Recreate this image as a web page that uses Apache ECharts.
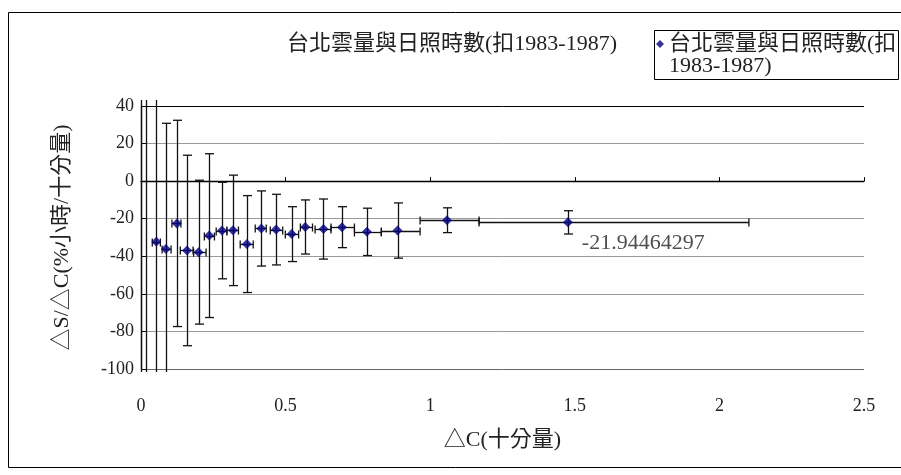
<!DOCTYPE html>
<html>
<head>
<meta charset="utf-8">
<script src="https://cdn.jsdelivr.net/npm/echarts@6/dist/echarts.min.js"></script>
<style>
  html, body { margin: 0; padding: 0; background: #fff; }
  #chart { width: 901px; height: 475px; }
</style>
</head>
<body>
<div id="chart"></div>
<script>
// Taipei cloud amount vs. sunshine hours (1983-1987 removed)
const legendLines = ['台北雲量與日照時數(扣', '1983-1987)'];
const seriesName = legendLines.join('');
const xAxisName = '△C(十分量)';
const yAxisName = '△S/△C(%小時/十分量)';

// bin centres (△C), ratio values and their error ranges
const deltaC = [0.000, 0.016, 0.053, 0.086, 0.124, 0.159, 0.199, 0.236, 0.280, 0.318, 0.366,
                0.416, 0.467, 0.521, 0.568, 0.631, 0.695, 0.781, 0.887, 1.058, 1.476];
const ratio  = [-160, 55, -32.2, -36.1, -22.5, -36.9, -37.8, -29.0, -26.3, -26.2, -33.5,
                -25.2, -25.8, -28.2, -24.4, -25.5, -24.5, -27.0, -26.3, -20.8, -21.94464297];
const ratioErr = [330, 210, 80, 66.9, 54.9, 50.7, 38.3, 43.6, 25.7, 29.4, 25.8,
                  20.0, 18.8, 14.6, 14.4, 16.0, 10.9, 12.6, 14.7, 6.6, 6.2];
const binLow  = [0.000, 0.016, 0.039, 0.073, 0.107, 0.136, 0.182, 0.219, 0.260, 0.297, 0.343,
                 0.395, 0.447, 0.499, 0.551, 0.602, 0.657, 0.738, 0.831, 0.965, 1.169];
const binHigh = [0.000, 0.016, 0.067, 0.104, 0.138, 0.180, 0.225, 0.254, 0.297, 0.337, 0.388,
                 0.433, 0.490, 0.545, 0.593, 0.657, 0.738, 0.831, 0.965, 1.169, 2.102];
const labelledIndex = deltaC.length - 1;

// axis ranges and tick labels
const xTicks = ['0', '0.5', '1', '1.5', '2', '2.5'];
const yTicks = ['-100', '-80', '-60', '-40', '-20', '0', '20', '40'];
const xMin = 0, xMax = 2.5, xStep = 0.5;
const yMin = -100, yMax = 40, yStep = 20;

const FONT = "'Liberation Serif', 'Noto Sans CJK TC', serif";
const TEXT = '#222';

const points = deltaC.map((x, i) => {
  const item = { value: [x, ratio[i]] };
  if (i === labelledIndex) {
    item.label = {
      show: true,
      formatter: p => String(p.value[1]),
      position: [19, 26],
      align: 'left',
      verticalAlign: 'middle',
      color: TEXT,
      fontSize: 22,
      fontFamily: FONT
    };
  }
  return item;
});
const errorData = deltaC.map((x, i) => [x, ratio[i], ratioErr[i], binLow[i], binHigh[i]]);

// vertical (ratio) and horizontal (bin range) error bars, kept near the plot area
function renderErrorBars(params, api) {
  const x = api.value(0), y = api.value(1), e = api.value(2);
  const lo = api.value(3), hi = api.value(4);
  const cs = params.coordSys;
  const top = cs.y, bottom = cs.y + cs.height;
  const c = api.coord([x, y]);
  const pUp = api.coord([x, y + e]);
  const pDn = api.coord([x, y - e]);
  const style = { stroke: '#111', lineWidth: 1.3 };
  const cap = 4.5;
  const children = [];
  const vx = Math.round(c[0]) + 0.5;
  const yA = Math.max(pUp[1], top - 6);
  const yB = Math.min(pDn[1], bottom + 3);
  children.push({ type: 'line', shape: { x1: vx, y1: yA, x2: vx, y2: yB }, style });
  if (pUp[1] >= top) {
    children.push({ type: 'line', shape: { x1: vx - cap, y1: pUp[1], x2: vx + cap, y2: pUp[1] }, style });
  }
  if (pDn[1] <= bottom) {
    children.push({ type: 'line', shape: { x1: vx - cap, y1: pDn[1], x2: vx + cap, y2: pDn[1] }, style });
  }
  if (hi > lo && c[1] >= top && c[1] <= bottom) {
    const a = api.coord([lo, y]), b = api.coord([hi, y]);
    const hy = Math.round(c[1]) + 0.5;
    children.push({ type: 'line', shape: { x1: a[0], y1: hy, x2: b[0], y2: hy }, style });
    children.push({ type: 'line', shape: { x1: a[0], y1: hy - 4, x2: a[0], y2: hy + 4 }, style });
    children.push({ type: 'line', shape: { x1: b[0], y1: hy - 4, x2: b[0], y2: hy + 4 }, style });
  }
  return { type: 'group', children };
}

const chart = echarts.init(document.getElementById('chart'), null, { renderer: 'canvas' });
chart.setOption({
  animation: false,
  backgroundColor: '#fff',
  textStyle: { fontFamily: FONT },
  title: {
    text: seriesName,
    left: 287,
    top: 33,
    padding: 0,
    textStyle: { fontSize: 22, fontWeight: 'normal', color: TEXT, fontFamily: FONT, lineHeight: 22 }
  },
  legend: {
    data: [seriesName],
    left: 656,
    top: 11,
    padding: 0,
    icon: 'diamond',
    itemWidth: 8,
    itemHeight: 8,
    selectedMode: false,
    // leading blank line puts the first text line level with the icon
    formatter: () => '\n' + legendLines.join('\n'),
    textStyle: { fontSize: 22, lineHeight: 22, color: TEXT, fontFamily: FONT }
  },
  graphic: [
    { type: 'rect', silent: true, shape: { x: 8.5, y: 12.5, width: 900, height: 455 },
      style: { fill: 'none', stroke: '#000', lineWidth: 1 } },
    { type: 'rect', silent: true, shape: { x: 654.5, y: 30.5, width: 244, height: 49 },
      style: { fill: 'none', stroke: '#000', lineWidth: 1 } }
  ],
  grid: { left: 141, right: 37, top: 106, bottom: 106, containLabel: false },
  xAxis: [
    {
      type: 'value', min: xMin, max: xMax, interval: xStep, position: 'bottom',
      name: xAxisName, nameLocation: 'middle', nameGap: 60,
      nameTextStyle: { fontSize: 22, color: TEXT, fontFamily: FONT },
      axisLine: { show: false, onZero: false },
      axisTick: { show: false },
      splitLine: { show: false },
      axisLabel: {
        margin: 28, fontSize: 18, color: TEXT, fontFamily: FONT,
        formatter: (v) => xTicks[Math.round((v - xMin) / xStep)]
      }
    },
    {
      type: 'value', min: xMin, max: xMax, interval: xStep, position: 'bottom',
      axisLine: { show: true, onZero: true, lineStyle: { color: '#000', width: 1.3 } },
      axisTick: { show: true, inside: true, length: 4, lineStyle: { color: '#000' } },
      axisLabel: { show: false },
      splitLine: { show: false }
    }
  ],
  yAxis: {
    type: 'value', min: yMin, max: yMax, interval: yStep,
    name: yAxisName, nameLocation: 'middle', nameGap: 68, nameRotate: 90,
    nameTextStyle: { fontSize: 22, color: TEXT, fontFamily: FONT },
    axisLine: { show: true, lineStyle: { color: '#000', width: 1.3 } },
    axisTick: { show: true, inside: true, length: 6, lineStyle: { color: '#000' } },
    axisLabel: {
      margin: 7, fontSize: 18, color: TEXT, fontFamily: FONT,
      formatter: (v) => yTicks[Math.round((v - yMin) / yStep)]
    },
    splitLine: {
      show: true,
      lineStyle: { color: ['#666', '#999', '#999', '#999', '#999', '#999', '#999', '#000'], width: 1 }
    }
  },
  series: [
    {
      type: 'custom',
      name: 'error',
      xAxisIndex: 0,
      renderItem: renderErrorBars,
      data: errorData,
      clip: false,
      z: 2,
      silent: true
    },
    {
      type: 'scatter',
      name: seriesName,
      xAxisIndex: 0,
      symbol: 'diamond',
      symbolSize: 10,
      itemStyle: { color: '#000080' },
      data: points,
      clip: true,
      z: 3
    }
  ]
});
</script>
</body>
</html>
